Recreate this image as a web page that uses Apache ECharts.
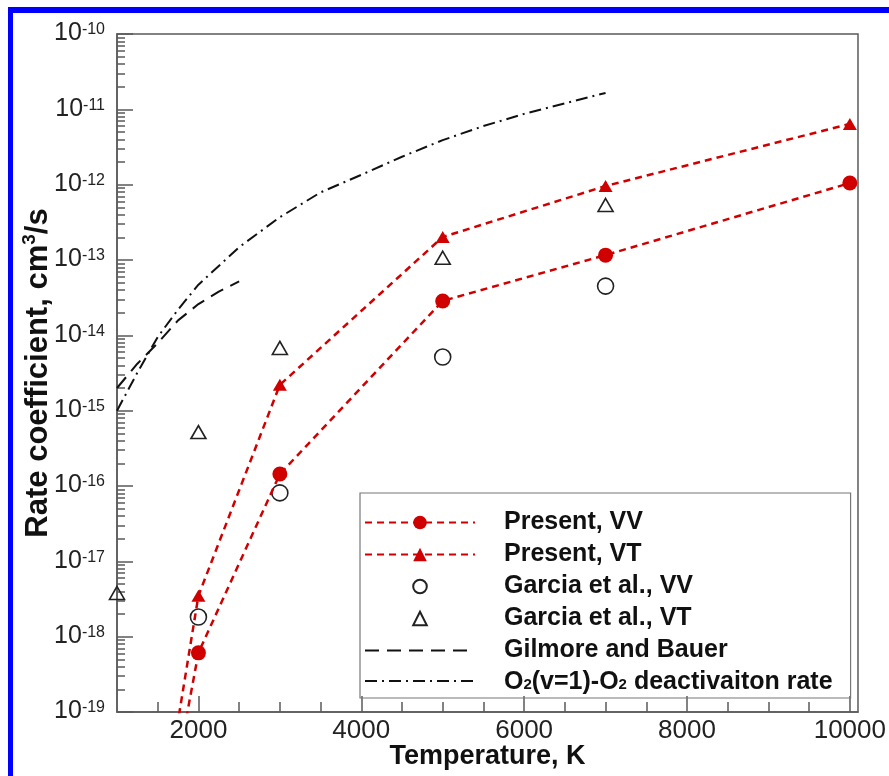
<!DOCTYPE html>
<html><head><meta charset="utf-8">
<script src="https://cdn.jsdelivr.net/npm/echarts@6/dist/echarts.min.js"></script>
<style>
html,body{margin:0;padding:0;background:#fff;}
#c{position:absolute;left:0;top:0;width:889px;height:776px;}
.bt{position:absolute;left:8px;top:7px;width:881px;height:6px;background:#0000ff;z-index:5;}
.bl{position:absolute;left:8px;top:7px;width:5px;height:769px;background:#0000ff;z-index:5;}
</style></head>
<body>
<div id="c"></div><div class="bt"></div><div class="bl"></div>
<script>
// ---- data ----
const presentTemps = [1500, 2000, 3000, 5000, 7000, 10000];
const presentVV = [7.6e-22, 6.1e-19, 1.44e-16, 2.86e-14, 1.16e-13, 1.05e-12];
const presentVT = [1.7e-21, 3.5e-18, 2.2e-15, 2.02e-13, 9.6e-13, 6.4e-12];
const garciaVVTemps = [2000, 3000, 5000, 7000];
const garciaVV = [1.82e-18, 8.1e-17, 5.15e-15, 4.5e-14];
const garciaVTTemps = [1000, 2000, 3000, 5000, 7000];
const garciaVT = [3.8e-18, 5.2e-16, 6.8e-15, 1.07e-13, 5.37e-13];
const gilmoreTemps = [1000, 1250, 1500, 1750, 2000, 2250, 2500];
const gilmore = [2.0e-15, 4.2e-15, 7.9e-15, 1.58e-14, 2.6e-14, 3.8e-14, 5.2e-14];
const o2Temps = [1000, 1250, 1500, 1750, 2000, 2500, 3000, 3500, 4000, 4500, 5000, 5500, 6000, 6500, 7000];
const o2Rate = [1.0e-15, 3.2e-15, 9.5e-15, 2.2e-14, 4.7e-14, 1.48e-13, 3.7e-13, 7.9e-13, 1.35e-12, 2.35e-12, 3.9e-12, 6.0e-12, 8.7e-12, 1.2e-11, 1.65e-11];
const xMajorTicks = [2000, 4000, 6000, 8000, 10000];
const xMinorTicks = [1500, 2500, 3000, 3500, 4500, 5000, 5500, 6500, 7000, 7500, 8500, 9000, 9500];
const yExponents = [-19, -18, -17, -16, -15, -14, -13, -12, -11, -10];
const seriesNames = ['Present, VV', 'Present, VT', 'Garcia et al., VV', 'Garcia et al., VT', 'Gilmore and Bauer', 'O2(v=1)-O2 deactivaiton rate'];

// ---- helpers ----
const toLog = (xs, ys) => xs.map((x, i) => [x, Math.log10(ys[i])]);
const yMinor = [];
for (let n = yExponents[0]; n < yExponents[yExponents.length - 1]; n++) {
  for (let k = 2; k <= 9; k++) yMinor.push(n + Math.log10(k));
}
const RED = '#d10000';
const FONT = '"Liberation Sans", Arial, sans-serif';
const AX = '#5a5a5a';
const CLEAR = 'rgba(0,0,0,0)';

const chart = echarts.init(document.getElementById('c'), null, {renderer: 'canvas'});
chart.setOption({
  backgroundColor: '#fff',
  animation: false,
  grid: {left: 117, top: 34, right: 31, bottom: 64, show: true, borderColor: AX, borderWidth: 1.5, containLabel: false},
  legend: {
    orient: 'vertical', left: 360, top: 493,
    data: seriesNames,
    itemWidth: 110, itemHeight: 17, itemGap: 7,
    padding: [17, 18, 3, 4],
    borderColor: '#777', borderWidth: 1.2,
    selectedMode: false,
    formatter: name => name.indexOf('O2(') === 0 ? '{n|O}{sub|2}{n|(v=1)-O}{sub|2}{n| deactivaiton rate}' : name,
    textStyle: {
      fontFamily: FONT, fontSize: 25, fontWeight: 'bold', color: '#111', lineHeight: 24,
      padding: [0, 0, 0, 24],
      rich: {
        n: {fontFamily: FONT, fontSize: 25, fontWeight: 'bold', color: '#111', lineHeight: 22, verticalAlign: 'top'},
        sub: {fontFamily: FONT, fontSize: 15, fontWeight: 'bold', color: '#111', lineHeight: 8, verticalAlign: 'bottom'}
      }
    }
  },
  xAxis: [{
    type: 'value', min: 1000, max: 10100,
    axisLine: {lineStyle: {color: AX, width: 1.5}},
    axisTick: {inside: true, length: 16, customValues: xMajorTicks, lineStyle: {color: AX, width: 1.5}},
    axisLabel: {customValues: xMajorTicks, formatter: v => String(v), fontFamily: FONT, fontSize: 26, color: '#222', margin: 6},
    splitLine: {show: false},
    name: 'Temperature, K', nameLocation: 'middle', nameGap: 31, nameMoveOverlap: false,
    nameTextStyle: {fontFamily: FONT, fontSize: 27, fontWeight: 'bold', color: '#111'}
  }, {
    type: 'value', min: 1000, max: 10100, position: 'bottom',
    axisLine: {show: false}, axisLabel: {show: false}, splitLine: {show: false},
    axisTick: {inside: true, length: 10, customValues: xMinorTicks, lineStyle: {color: AX, width: 1.5}}
  }],
  yAxis: [{
    type: 'value', min: yExponents[0], max: yExponents[yExponents.length - 1], interval: 1,
    axisLine: {lineStyle: {color: AX, width: 1.5}},
    axisTick: {inside: true, length: 16, lineStyle: {color: AX, width: 1.5}},
    axisLabel: {
      margin: 12,
      formatter: v => '{b|10}{s|' + v + '}',
      rich: {
        b: {fontFamily: FONT, fontSize: 25, color: '#222', lineHeight: 24, verticalAlign: 'bottom'},
        s: {fontFamily: FONT, fontSize: 16, color: '#222', lineHeight: 16, verticalAlign: 'top'}
      }
    },
    splitLine: {show: false},
    name: '{t|Rate coefficient, cm}{u|3}{t|/s}', nameLocation: 'middle', nameRotate: 90, nameGap: 63,
    nameMoveOverlap: false,
    nameTextStyle: {
      rich: {
        t: {fontFamily: FONT, fontSize: 31, fontWeight: 'bold', color: '#111', lineHeight: 34, verticalAlign: 'bottom'},
        u: {fontFamily: FONT, fontSize: 19, fontWeight: 'bold', color: '#111', lineHeight: 20, verticalAlign: 'top'}
      }
    }
  }, {
    type: 'value', min: yExponents[0], max: yExponents[yExponents.length - 1], position: 'left',
    axisLine: {show: false}, axisLabel: {show: false}, splitLine: {show: false},
    axisTick: {inside: true, length: 8, customValues: yMinor, lineStyle: {color: AX, width: 1.5}}
  }],
  series: [{
    name: seriesNames[0], type: 'line', data: toLog(presentTemps, presentVV),
    symbol: 'circle', symbolSize: 15, z: 6,
    itemStyle: {color: RED},
    lineStyle: {color: RED, width: 2.5, type: [7, 5]}
  }, {
    name: seriesNames[1], type: 'line', data: toLog(presentTemps, presentVT),
    symbol: 'triangle', symbolSize: [14, 12], z: 6,
    itemStyle: {color: RED},
    lineStyle: {color: RED, width: 2.5, type: [7, 5]}
  }, {
    name: seriesNames[2], type: 'line', data: toLog(garciaVVTemps, garciaVV),
    symbol: 'circle', symbolSize: 16, showAllSymbol: true, z: 5,
    itemStyle: {color: CLEAR, borderColor: '#222', borderWidth: 1.6},
    lineStyle: {color: CLEAR, opacity: 0}
  }, {
    name: seriesNames[3], type: 'line', data: toLog(garciaVTTemps, garciaVT),
    symbol: 'triangle', symbolSize: [15, 13], showAllSymbol: true, z: 5,
    itemStyle: {color: CLEAR, borderColor: '#222', borderWidth: 1.6},
    lineStyle: {color: CLEAR, opacity: 0}
  }, {
    name: seriesNames[4], type: 'line', data: toLog(gilmoreTemps, gilmore),
    symbol: 'none', z: 4,
    itemStyle: {color: CLEAR, borderColor: CLEAR},
    lineStyle: {color: '#111', width: 2, type: [14, 8]}
  }, {
    name: seriesNames[5], type: 'line', data: toLog(o2Temps, o2Rate),
    symbol: 'none', z: 4,
    itemStyle: {color: CLEAR, borderColor: CLEAR},
    lineStyle: {color: '#111', width: 2, type: [12, 5, 2, 5]}
  }]
});
</script>
</body></html>
